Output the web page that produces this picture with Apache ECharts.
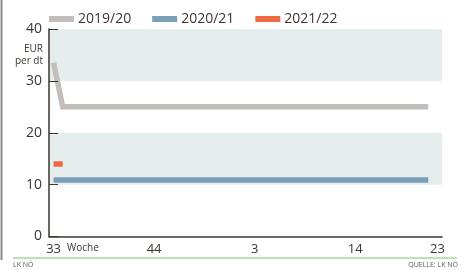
<!DOCTYPE html>
<html>
<head>
<meta charset="utf-8">
<script src="https://cdn.jsdelivr.net/npm/echarts@6/dist/echarts.min.js"></script>
<style>
  html, body { margin: 0; padding: 0; background: #fff; }
  #main { width: 465px; height: 270px; }
</style>
</head>
<body>
<div id="main"></div>
<script>
// Kalenderwochen 33 bis 23
var weeks = ['33','34','35','36','37','38','39','40','41','42','43','44','45','46','47','48','49','50','51','52',
             '1','2','3','4','5','6','7','8','9','10','11','12','13','14','15','16','17','18','19','20','21','22','23'];

var s1920 = [33.5, 25, 25, 25, 25, 25, 25, 25, 25, 25, 25, 25, 25, 25, 25, 25, 25, 25, 25, 25,
             25, 25, 25, 25, 25, 25, 25, 25, 25, 25, 25, 25, 25, 25, 25, 25, 25, 25, 25, 25, 25, 25, null];
var s2021 = [10.9, 10.9, 10.9, 10.9, 10.9, 10.9, 10.9, 10.9, 10.9, 10.9, 10.9, 10.9, 10.9, 10.9, 10.9, 10.9, 10.9, 10.9, 10.9, 10.9,
             10.9, 10.9, 10.9, 10.9, 10.9, 10.9, 10.9, 10.9, 10.9, 10.9, 10.9, 10.9, 10.9, 10.9, 10.9, 10.9, 10.9, 10.9, 10.9, 10.9, 10.9, 10.9, null];
var s2122 = [14, 14];

var bands = [[30, 40], [10, 20]];
var yTicks = [0, 10, 20, 30, 40];

var textCol = '#3d3531';
var font = '"Open Sans", "Noto Sans", sans-serif';

var myChart = echarts.init(document.getElementById('main'), null, {renderer: 'canvas'});

function lineSeries(name, data, color, z) {
    return {
        name: name,
        type: 'line',
        data: data,
        symbol: 'none',
        z: z,
        lineStyle: {color: color, width: 5.5, cap: 'butt', join: 'miter'},
        itemStyle: {color: color},
        animation: false
    };
}

var series = [
    lineSeries('2019/20', s1920, '#c2bebb', 3),
    lineSeries('2020/21', s2021, '#7a9fb7', 3),
    lineSeries('2021/22', s2122, '#ef6a43', 3)
];
// Hintergrundbänder
series[0].markArea = {
    silent: true,
    itemStyle: {color: '#e6eeed'},
    data: bands.map(function (b) { return [{yAxis: b[0]}, {yAxis: b[1]}]; })
};

var option = {
    backgroundColor: '#fff',
    textStyle: {fontFamily: font},
    legend: {
        left: 44,
        top: 7,
        itemWidth: 25,
        itemHeight: 6,
        itemGap: 21,
        icon: 'rect',
        textStyle: {fontSize: 14, color: textCol, fontFamily: font, padding: [0, 0, 0, -1]},
        data: ['2019/20', '2020/21', '2021/22']
    },
    grid: {left: 49, right: 23, top: 29, bottom: 33.5},
    xAxis: {
        type: 'category',
        data: weeks,
        boundaryGap: true,
        axisLine: {lineStyle: {color: textCol, width: 1.5}},
        axisTick: {inside: true, length: 4, lineStyle: {color: textCol}},
        axisLabel: {
            fontSize: 13, color: textCol, margin: 6, fontFamily: font,
            interval: function (i, v) { return i === 0 || i === 11 || i === 22 || i === 33 || i === 42; }
        },
        splitLine: {show: false}
    },
    yAxis: {
        type: 'value',
        min: yTicks[0],
        max: yTicks[yTicks.length - 1],
        interval: 10,
        z: 5,
        axisLine: {show: true, lineStyle: {color: textCol, width: 1.5}},
        axisTick: {show: true, inside: true, length: 9, lineStyle: {color: textCol}},
        axisLabel: {fontSize: 14, color: textCol, margin: 7, fontFamily: font},
        splitLine: {show: false}
    },
    graphic: [
        {type: 'line', shape: {x1: 1.5, y1: 0, x2: 1.5, y2: 260}, style: {stroke: '#8a8a8a', lineWidth: 2}},
        {type: 'text', x: 43, y: 44, style: {text: 'EUR', fontSize: 10, fill: textCol, fontFamily: font, align: 'right'}},
        {type: 'text', x: 43, y: 56, style: {text: 'per dt', fontSize: 10, fill: textCol, fontFamily: font, align: 'right'}},
        {type: 'text', x: 67, y: 243, style: {text: 'Woche', fontSize: 10, fill: textCol, fontFamily: font}},
        {type: 'line', shape: {x1: 13, y1: 258, x2: 457, y2: 258}, style: {stroke: '#7dc46c', lineWidth: 1}},
        {type: 'text', x: 13, y: 261, style: {text: 'LK NÖ', fontSize: 7, fill: '#555', fontFamily: font}},
        {type: 'text', x: 458, y: 261, style: {text: 'QUELLE: LK NÖ', fontSize: 7, fill: '#555', fontFamily: font, align: 'right'}}
    ],
    series: series
};
myChart.setOption(option);
</script>
</body>
</html>
